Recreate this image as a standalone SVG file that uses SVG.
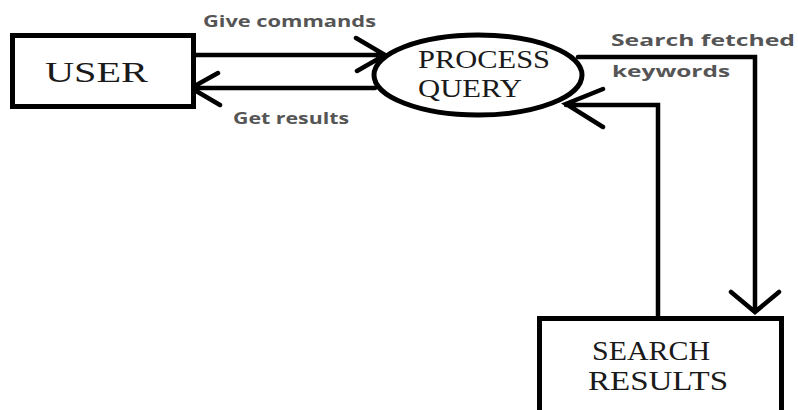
<svg xmlns="http://www.w3.org/2000/svg" width="798" height="410" viewBox="0 0 798 410">
<style>
.box{fill:#fff;stroke:#000;stroke-width:5}
.ln{fill:none;stroke:#000;stroke-width:4.5;stroke-linecap:round;stroke-linejoin:miter}
.nt{font-family:"Liberation Serif","DejaVu Serif",serif;font-size:25px;fill:#1a1a1a}
.lb{font-family:"Open Sans","DejaVu Sans",sans-serif;font-weight:bold;font-size:16px;fill:#555}
</style>
<rect width="798" height="410" fill="#fff"/>
<g id="connectors">
<path class="ln" d="M195 55 H385 M356 38 L385 55 L357 71"/>
<path class="ln" d="M375 88 H191 M218 73 L191 88 L220 105"/>
<path class="ln" d="M578 57 H755 V312 M731 292 L755 312 L779 292"/>
<path class="ln" d="M658 317 V105 H566 M603 89 L566 104 L603 127"/>
<text class="lb" x="203" y="27" textLength="173" lengthAdjust="spacingAndGlyphs">Give commands</text>
<text class="lb" x="233" y="124" textLength="116" lengthAdjust="spacingAndGlyphs">Get results</text>
<text class="lb" x="611" y="46" textLength="184" lengthAdjust="spacingAndGlyphs">Search fetched</text>
<text class="lb" x="612" y="77" textLength="118" lengthAdjust="spacingAndGlyphs">keywords</text>
</g>
<g id="user">
<rect class="box" x="12.5" y="35.5" width="181" height="71"/>
<text class="nt" x="45" y="82" style="font-size:30px" textLength="103" lengthAdjust="spacingAndGlyphs">USER</text>
</g>
<g id="process-query">
<ellipse class="box" cx="478" cy="75" rx="104" ry="40"/>
<text class="nt" x="418" y="68" textLength="132" lengthAdjust="spacingAndGlyphs">PROCESS</text>
<text class="nt" x="418" y="97" textLength="104" lengthAdjust="spacingAndGlyphs">QUERY</text>
</g>
<g id="search-results">
<rect class="box" x="539.5" y="318.5" width="242" height="100"/>
<text class="nt" x="592" y="360" style="font-size:27px" textLength="118" lengthAdjust="spacingAndGlyphs">SEARCH</text>
<text class="nt" x="588" y="390" style="font-size:28px" textLength="140" lengthAdjust="spacingAndGlyphs">RESULTS</text>
</g>
</svg>
